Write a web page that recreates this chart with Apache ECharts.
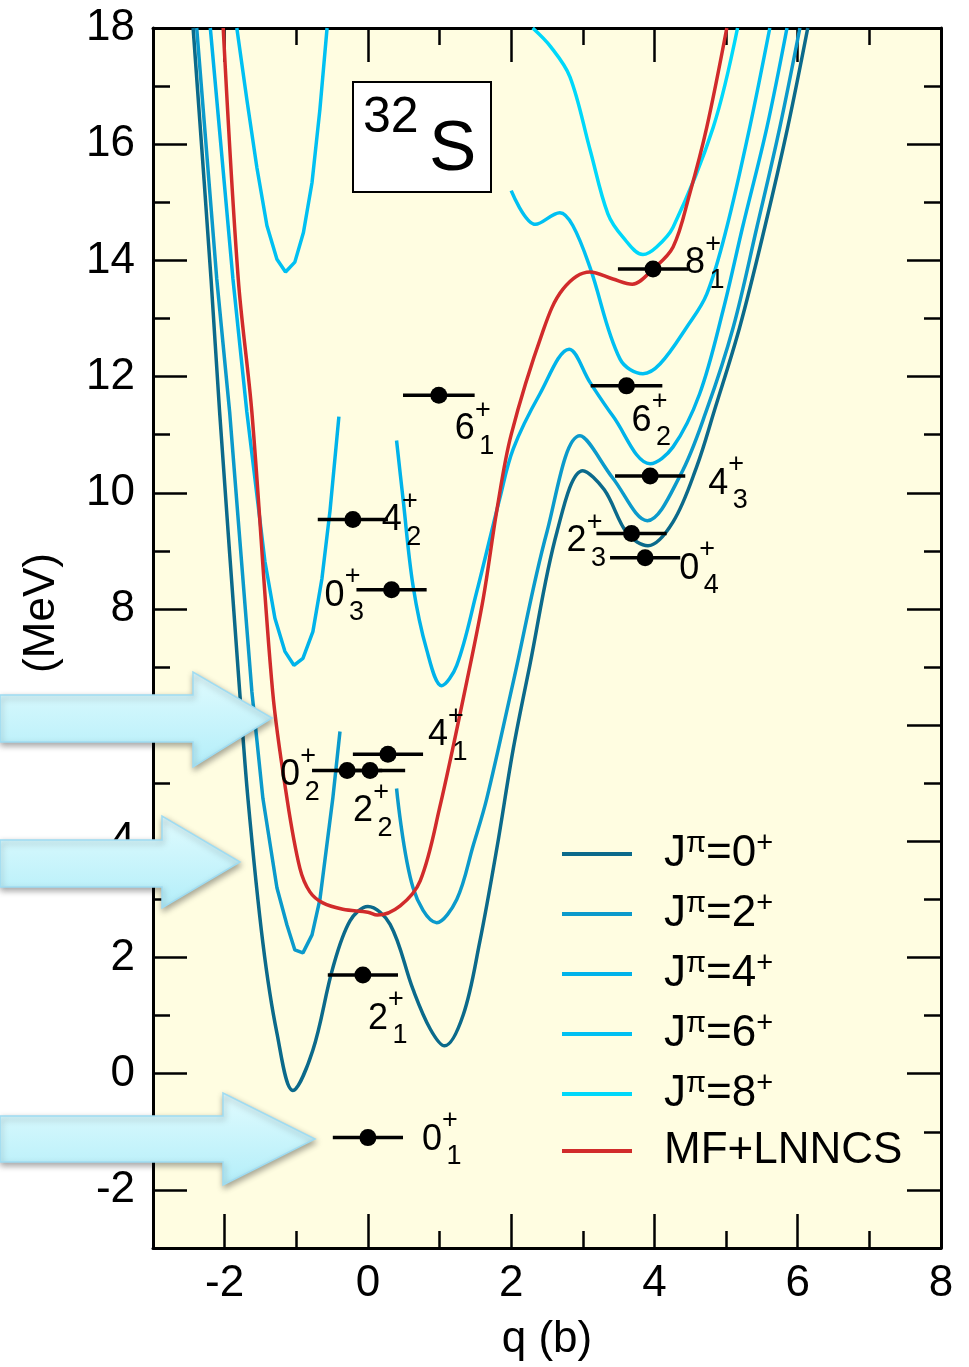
<!DOCTYPE html>
<html>
<head>
<meta charset="utf-8">
<script src="https://cdn.jsdelivr.net/npm/echarts@6.0.0/dist/echarts.min.js"></script>
<style>
html,body{margin:0;padding:0;background:#ffffff;width:969px;height:1367px;overflow:hidden;}
#chart{width:969px;height:1367px;overflow:hidden;}
</style>
</head>
<body>
<div id="chart"></div>
<script>
// ---------------- data ----------------
// collective potentials, q in barn, E in MeV
const j0Q = [-2.44, -2.19, -2.07, -1.79, -1.675, -1.466, -1.27, -1.047, -0.77, -0.49, -0.25, 0, 0.31, 0.63, 0.87, 1.07, 1.33, 1.56, 1.8, 2.03, 2.26, 2.64, 3.0, 3.3, 3.62, 3.91, 4.26, 4.59, 4.84, 5.19, 5.54, 5.86, 6.14];
const j0E = [18, 13.68, 11.39, 6.58, 4.74, 2.25, 0.7, -0.29, 0.4, 1.82, 2.63, 2.88, 2.57, 1.45, 0.77, 0.48, 1.01, 2.26, 3.88, 5.6, 7.03, 9.33, 10.38, 10.05, 9.3, 9.09, 9.5, 10.45, 11.43, 12.85, 14.57, 16.29, 18];

const j2LeftQ = [-2.39, -2.11, -1.93, -1.62, -1.466, -1.27, -1.13, -1.02, -0.907, -0.78, -0.67, -0.49, -0.39];
const j2LeftE = [18, 13.68, 11.39, 6.58, 4.74, 3.2, 2.56, 2.13, 2.08, 2.39, 3.0, 4.74, 5.89];
const j2RightQ = [0.4, 0.63, 0.96, 1.24, 1.47, 1.66, 2.03, 2.5, 2.96, 3.42, 3.9, 4.36, 4.73, 5.1, 5.43, 5.75, 6.03];
const j2RightE = [4.91, 3.2, 2.6, 3.0, 3.93, 4.74, 6.75, 9.33, 10.98, 10.25, 9.52, 10.3, 11.43, 12.85, 14.57, 16.29, 18];

const j4LeftQ = [-2.2, -1.884, -1.69, -1.577, -1.438, -1.298, -1.159, -1.033, -0.907, -0.768, -0.642, -0.53, -0.405];
const j4LeftE = [18, 13.68, 11.39, 10.24, 8.82, 7.84, 7.27, 7.03, 7.15, 7.61, 8.52, 9.68, 11.31];
const j4RightQ = [0.4, 0.49, 0.63, 0.82, 1.03, 1.24, 1.52, 1.84, 2.03, 2.4, 2.81, 3.1, 3.42, 3.94, 4.26, 4.63, 4.96, 5.23, 5.57, 5.85];
const j4RightE = [10.9, 9.9, 8.4, 7.3, 6.68, 7.03, 8.3, 9.9, 10.76, 11.7, 12.47, 11.9, 11.32, 10.5, 10.79, 11.7, 13.15, 14.57, 16.29, 18];

const j6LeftQ = [-1.83, -1.69, -1.55, -1.41, -1.27, -1.15, -1.02, -0.9, -0.78, -0.67, -0.57];
const j6LeftE = [18, 16.77, 15.6, 14.6, 14.02, 13.8, 13.97, 14.48, 15.34, 16.6, 18];
const j6RightQ = [2.0, 2.34, 2.68, 2.86, 3.1, 3.52, 3.84, 4.08, 4.45, 4.73, 5.01, 5.33, 5.61];
const j6RightE = [15.2, 14.62, 14.82, 14.6, 13.88, 12.3, 12.05, 12.22, 12.85, 13.42, 14.57, 16.29, 18];

const j8Q = [2.3, 2.55, 2.82, 3.1, 3.35, 3.56, 3.84, 4.03, 4.26, 4.82, 5.16];
const j8E = [18, 17.68, 17.16, 15.91, 14.8, 14.4, 14.1, 14.23, 14.57, 16.29, 18];

const mfQ = [-2.02, -1.81, -1.62, -1.33, -1.13, -0.95, -0.81, -0.63, -0.35, 0, 0.13, 0.45, 0.73, 1.0, 1.38, 1.61, 1.8, 2.0, 2.44, 2.72, 3.1, 3.42, 3.69, 3.98, 4.26, 4.49, 4.73, 5.01];
const mfE = [18, 13.68, 11.39, 6.58, 4.74, 3.54, 3.13, 2.94, 2.83, 2.78, 2.73, 2.89, 3.32, 4.57, 6.75, 8.18, 9.7, 11.0, 12.77, 13.5, 13.8, 13.68, 13.59, 13.85, 14.23, 15.14, 16.29, 18];

// experimental levels
const levelSpin  = ['0', '2', '0', '2', '4', '0', '4', '6', '8', '6', '4', '2', '0'];
const levelIndex = ['1', '1', '2', '2', '1', '3', '2', '1', '1', '2', '3', '3', '4'];
const levelQ   = [0, -0.07, -0.29, 0.03, 0.28, 0.33, -0.21, 0.99, 3.98, 3.61, 3.94, 3.68, 3.87];
const levelE   = [-1.1, 1.7, 5.22, 5.22, 5.5, 8.33, 9.54, 11.68, 13.85, 11.84, 10.29, 9.3, 8.88];
const levelErr = [0.49, 0.49, 0.49, 0.49, 0.49, 0.49, 0.49, 0.5, 0.49, 0.5, 0.49, 0.49, 0.49];

const seriesNames = ['J\u03c0=0+', 'J\u03c0=2+', 'J\u03c0=4+', 'J\u03c0=6+', 'J\u03c0=8+', 'MF+LNNCS'];
const xMajorTicks = [-2, 0, 2, 4, 6, 8];
const yMajorTicks = [-2, 0, 2, 4, 6, 8, 10, 12, 14, 16, 18];

// ---------------- styles ----------------
const FONT = '"Liberation Sans", Arial, Helvetica, sans-serif';
const colors = ['#0b6a8b', '#0b9acb', '#00b3ea', '#00c0f2', '#00d8fa', '#d12b2b'];
// label placement (pixel offsets of the spin digit from the level dot)
const labelOffset = [[64, 2], [15, 44], [-57, 5], [-7, 41], [50, -19], [-57, 6], [39, 1], [26, 34], [42, -6], [15, 35], [68, 8], [-55, 8], [44, 11]];

const pairs = (qs, es) => qs.map((q, i) => [q, es[i]]);

function curve(name, qs, es, color, smooth) {
  return {
    type: 'line', name: name, data: pairs(qs, es),
    xAxisIndex: 0, yAxisIndex: 0,
    symbol: 'none', showSymbol: false, smooth: smooth,
    clip: true, silent: true,
    lineStyle: { color: color, width: 3.5 },
    itemStyle: { color: color },
    z: 3
  };
}

const tickLine = { color: '#000', width: 2.5 };
function xAxisPair(pos, withLabels) {
  return [
    { type: 'value', position: pos, min: -3, max: 8, interval: 1,
      axisLine: { show: true, onZero: false, lineStyle: { color: '#000', width: 3 } },
      axisTick: { show: true, inside: true, length: 17, lineStyle: tickLine },
      axisLabel: { show: false }, splitLine: { show: false } },
    Object.assign({ type: 'value', position: pos, min: -3, max: 8, interval: 1,
      axisLine: { show: false, onZero: false },
      axisTick: { show: true, inside: true, length: 34, customValues: xMajorTicks, lineStyle: tickLine },
      axisLabel: withLabels ? { show: true, customValues: xMajorTicks, fontSize: 44, color: '#000', fontFamily: FONT, margin: 14 } : { show: false },
      splitLine: { show: false } },
      withLabels ? { name: 'q (b)', nameLocation: 'middle', nameGap: 70,
        nameTextStyle: { fontSize: 44, lineHeight: 44, color: '#000', fontFamily: FONT } } : {})
  ];
}
function yAxisPair(pos, withLabels) {
  return [
    { type: 'value', position: pos, min: -3, max: 18, interval: 1,
      axisLine: { show: true, onZero: false, lineStyle: { color: '#000', width: 3 } },
      axisTick: { show: true, inside: true, length: 17, lineStyle: tickLine },
      axisLabel: { show: false }, splitLine: { show: false } },
    { type: 'value', position: pos, min: -3, max: 18, interval: 1,
      axisLine: { show: false, onZero: false },
      axisTick: { show: true, inside: true, length: 34, customValues: yMajorTicks, lineStyle: tickLine },
      axisLabel: withLabels ? { show: true, customValues: yMajorTicks, fontSize: 44, color: '#000', fontFamily: FONT, margin: 18 } : { show: false },
      splitLine: { show: false } }
  ];
}

function arrow(pts) {
  return {
    type: 'polygon', z: 100, silent: true,
    shape: { points: pts },
    style: {
      fill: { type: 'linear', x: 0, y: 0, x2: 0, y2: 1,
        colorStops: [{ offset: 0, color: '#e0fbfe' }, { offset: 1, color: '#b3eef9' }] },
      stroke: '#9fdcf2', lineWidth: 1.5,
      shadowBlur: 6, shadowOffsetX: 1, shadowOffsetY: 3, shadowColor: 'rgba(0,0,0,0.35)'
    }
  };
}

const chart = echarts.init(document.getElementById('chart'), null, { renderer: 'canvas', width: 969, height: 1367 });

const option = {
  animation: false,
  backgroundColor: '#ffffff',
  grid: { left: 153, top: 28, width: 788, height: 1222, show: true, backgroundColor: '#fffde1', borderWidth: 0 },
  xAxis: xAxisPair('bottom', true).concat(xAxisPair('top', false)),
  yAxis: yAxisPair('left', true).concat(yAxisPair('right', false)),
  legend: {
    data: seriesNames, orient: 'vertical', left: 557, top: 824,
    itemWidth: 70, itemHeight: 4, itemGap: 13, icon: 'rect', selectedMode: false,
    formatter: function (name) {
      if (name.charAt(0) === 'J') {
        return '{a|J}{s|\u03c0}{a|=' + name.charAt(3) + '}{s|+}';
      }
      return '{a|' + name + '}';
    },
    textStyle: {
      padding: [0, 0, 0, 27],
      rich: {
        a: { fontSize: 44, lineHeight: 50, fontFamily: FONT, color: '#000' },
        s: { fontSize: 29, lineHeight: 12, verticalAlign: 'top', fontFamily: FONT, color: '#000' }
      }
    }
  },
  series: [
    curve(seriesNames[0], j0Q, j0E, colors[0], 0.35),
    curve(seriesNames[1], j2LeftQ, j2LeftE, colors[1], false),
    curve(seriesNames[1], j2RightQ, j2RightE, colors[1], 0.35),
    curve(seriesNames[2], j4LeftQ, j4LeftE, colors[2], false),
    curve(seriesNames[2], j4RightQ, j4RightE, colors[2], 0.35),
    curve(seriesNames[3], j6LeftQ, j6LeftE, colors[3], false),
    curve(seriesNames[3], j6RightQ, j6RightE, colors[3], 0.35),
    curve(seriesNames[4], j8Q, j8E, colors[4], 0.35),
    curve(seriesNames[5], mfQ, mfE, colors[5], 0.35),
    {
      type: 'custom', name: 'levels', xAxisIndex: 0, yAxisIndex: 0, z: 10, silent: true,
      data: levelQ.map((q, i) => [q, levelE[i], i]),
      renderItem: function (params, api) {
        const i = api.value(2);
        const q = api.value(0), e = api.value(1);
        const c = api.coord([q, e]);
        const a = api.coord([q - levelErr[i], e]);
        const b = api.coord([q + levelErr[i], e]);
        const tx = c[0] + labelOffset[i][0];
        const ty = c[1] + labelOffset[i][1];
        const big = '36px ' + FONT, small = '27px ' + FONT;
        return {
          type: 'group',
          children: [
            { type: 'line', shape: { x1: a[0], y1: a[1], x2: b[0], y2: b[1] }, style: { stroke: '#000', lineWidth: 3.5 } },
            { type: 'circle', shape: { cx: c[0], cy: c[1], r: 8.5 }, style: { fill: '#000' } },
            { type: 'text', x: tx, y: ty, style: { text: levelSpin[i], font: big, fill: '#000', align: 'center', verticalAlign: 'middle' } },
            { type: 'text', x: tx + 18, y: ty - 19, style: { text: '+', font: small, fill: '#000', align: 'center', verticalAlign: 'middle' } },
            { type: 'text', x: tx + 22, y: ty + 17, style: { text: levelIndex[i], font: small, fill: '#000', align: 'center', verticalAlign: 'middle' } }
          ]
        };
      }
    }
  ],
  graphic: [
    { type: 'rect', z: 20, silent: true, shape: { x: 353, y: 82, width: 138, height: 110 },
      style: { fill: '#ffffff', stroke: '#000', lineWidth: 2 } },
    { type: 'text', z: 21, silent: true, x: 363, y: 118,
      style: { text: '32', font: '50px ' + FONT, fill: '#000', align: 'left', verticalAlign: 'middle' } },
    { type: 'text', z: 21, silent: true, x: 429, y: 150,
      style: { text: 'S', font: '71px ' + FONT, fill: '#000', align: 'left', verticalAlign: 'middle' } },
    { type: 'text', z: 21, silent: true, x: 42, y: 613, rotation: Math.PI / 2,
      style: { text: '(MeV)', font: '44px ' + FONT, fill: '#000', align: 'center', verticalAlign: 'middle' } },
    arrow([[0, 695], [193, 695], [193, 672], [272, 718], [193, 767], [193, 742], [0, 742]]),
    arrow([[0, 840], [162, 840], [162, 816], [240, 862], [162, 908], [162, 887], [0, 887]]),
    arrow([[0, 1116], [223, 1116], [223, 1093], [315, 1139], [223, 1185], [223, 1162], [0, 1162]])
  ]
};

chart.setOption(option);
</script>
</body>
</html>
